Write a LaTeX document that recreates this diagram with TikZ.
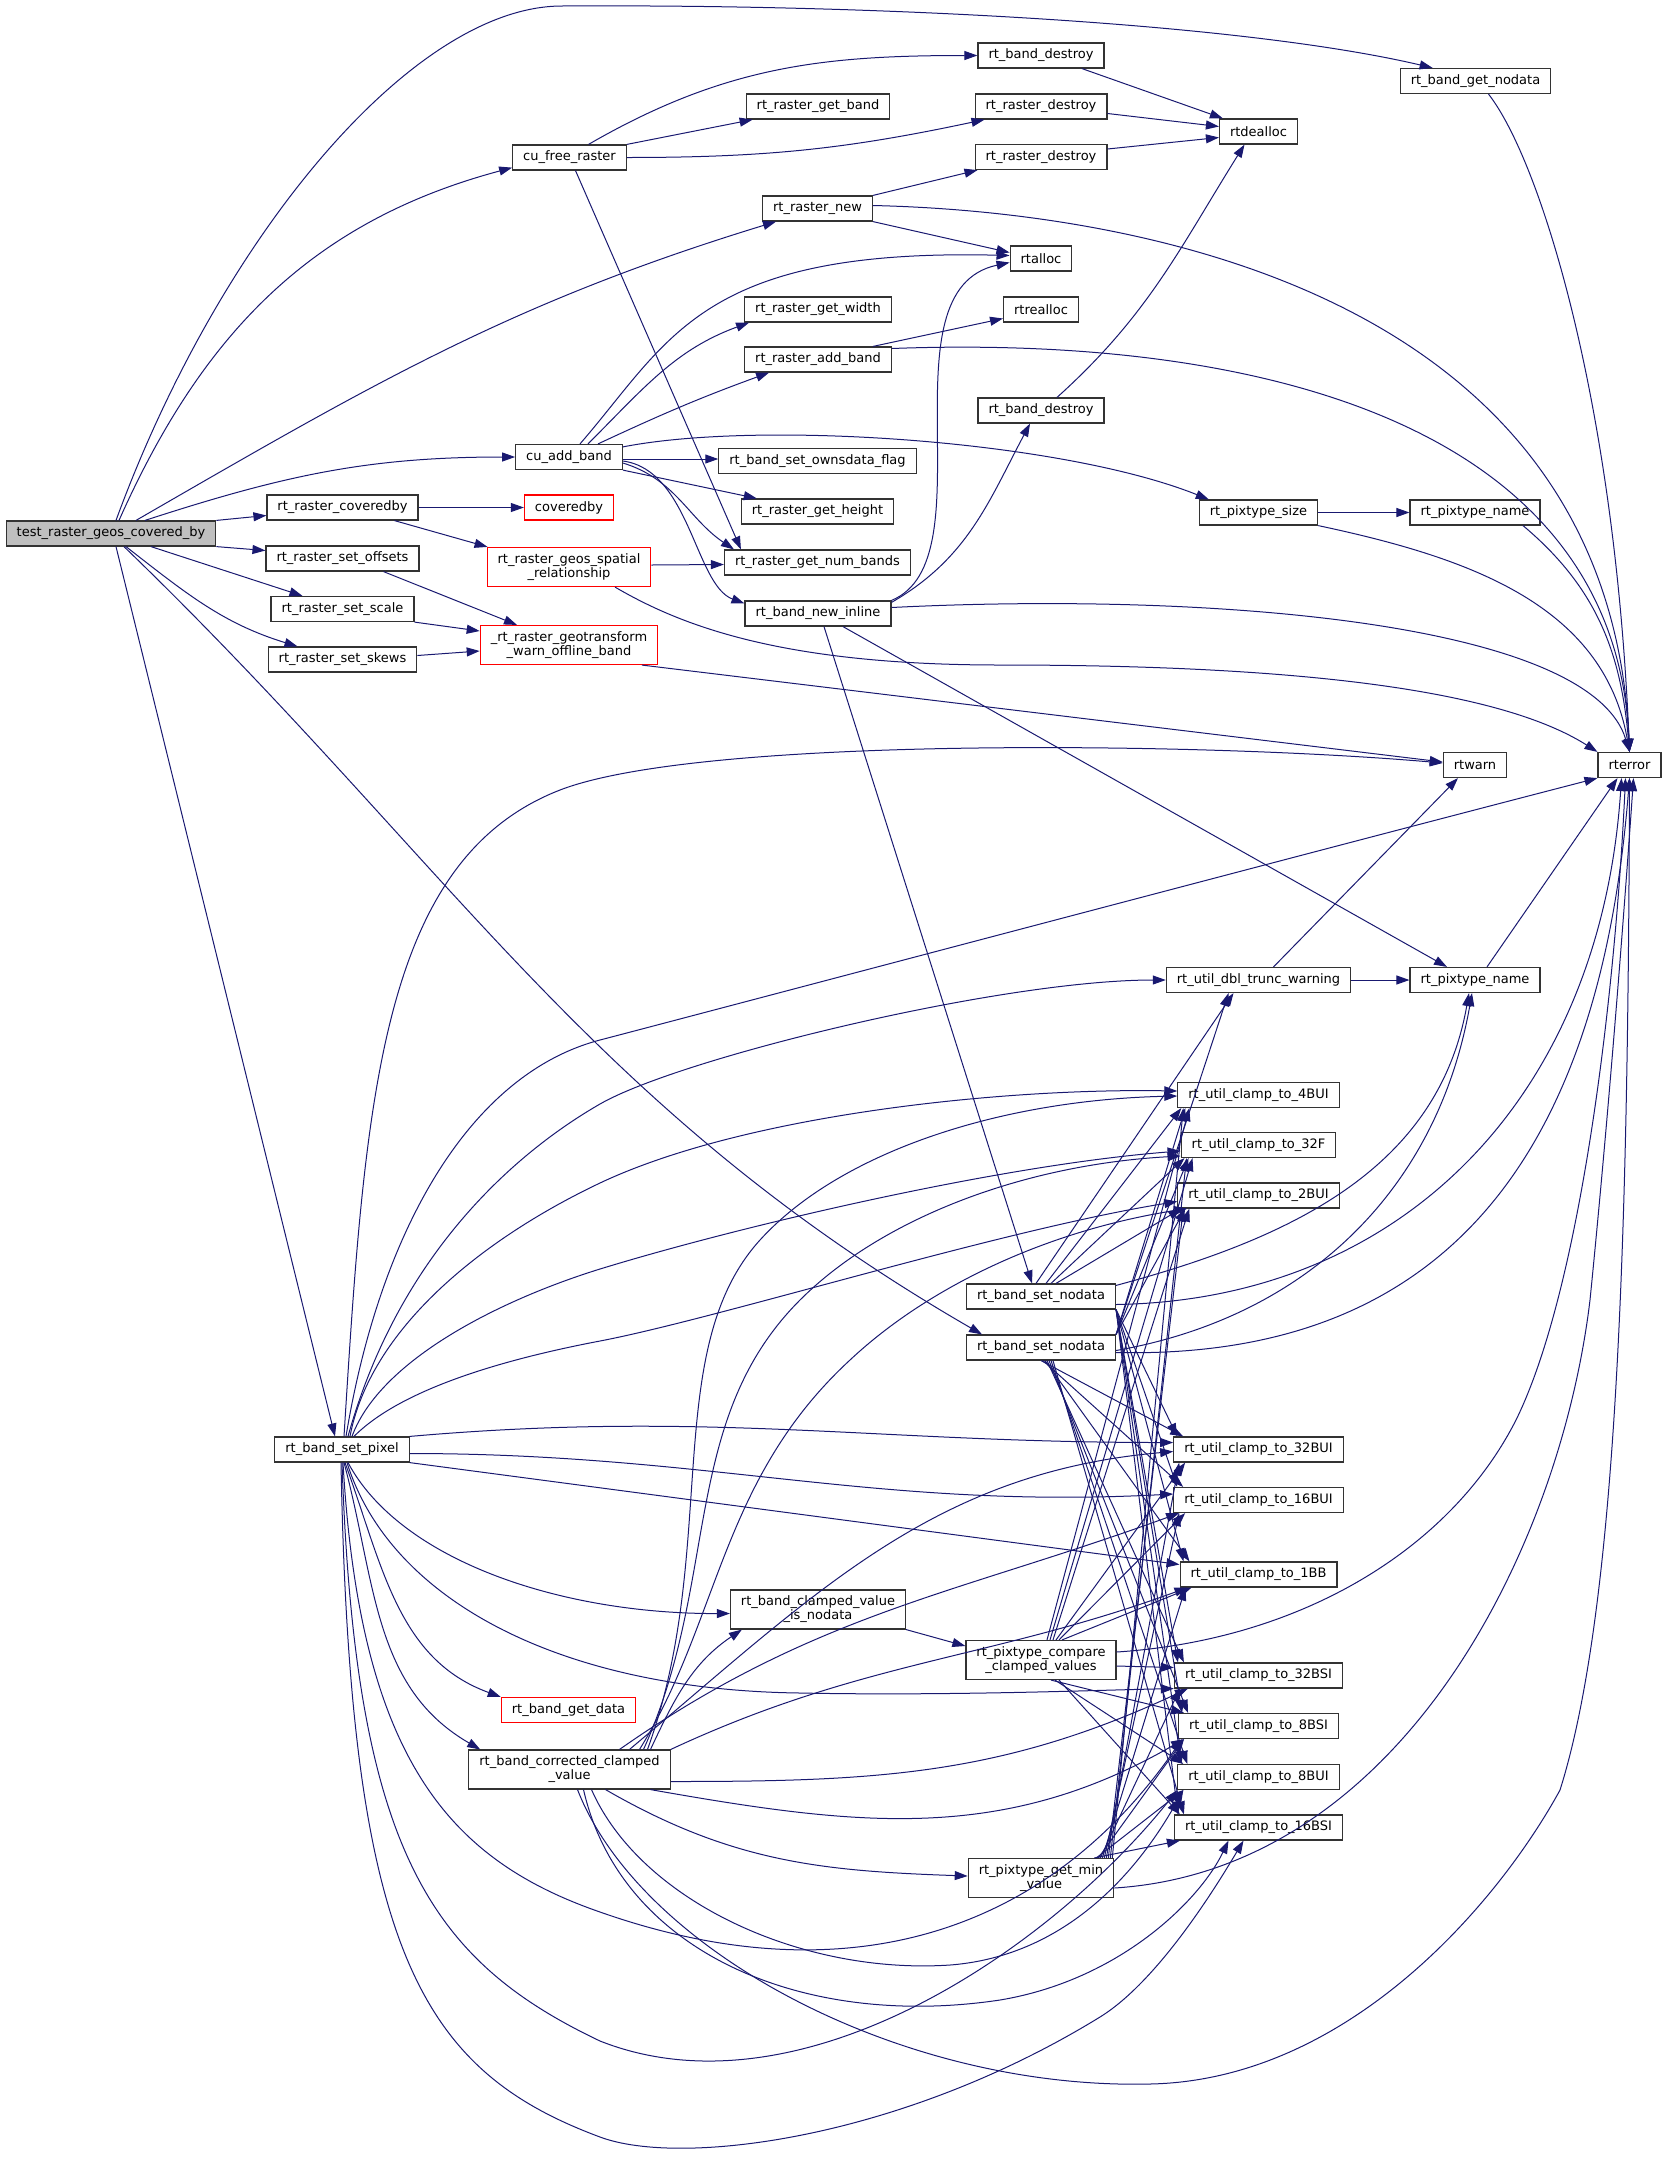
\documentclass[tikz,border=0pt]{standalone}
\usepackage{fontspec}
\setmainfont{DejaVu Sans}
\usetikzlibrary{arrows.meta}
\definecolor{edgeBlue}{HTML}{191970}
\begin{document}
\begin{tikzpicture}
            [x=1pt, y=1pt,
             fnBox/.style={rectangle,
                        draw=black!80,
                        line width=1.2pt,
                        fill=white,
                        align=center,
                        inner xsep=10.5pt,
                        inner ysep=6pt,
                        minimum height=25pt,
                        font=\fontsize{13}{14}\selectfont},
             rootBox/.style={fnBox, fill=black!25},
             truncBox/.style={fnBox, draw=red},
             callEdge/.style={draw=edgeBlue, line width=1pt, -{Triangle[length=13pt,width=9pt]}}]

            \useasboundingbox (0,0) rectangle (1667,-2169);

            \node[rootBox] (testCoveredBy) at (111,-533.5) {test\_raster\_geos\_covered\_by};
            \node[fnBox] (rasterCoveredby) at (342.5,-507.5) {rt\_raster\_coveredby};
            \node[fnBox] (setOffsets) at (342.5,-558.5) {rt\_raster\_set\_offsets};
            \node[fnBox] (setScale) at (342.5,-609) {rt\_raster\_set\_scale};
            \node[fnBox] (setSkews) at (342.5,-659.5) {rt\_raster\_set\_skews};
            \node[fnBox] (bandSetPixel) at (342,-1449.5) {rt\_band\_set\_pixel};

            \node[fnBox] (cuFreeRaster) at (569.5,-157.5) {cu\_free\_raster};
            \node[fnBox] (cuAddBand) at (569,-457) {cu\_add\_band};
            \node[truncBox] (coveredby) at (569,-507.5) {coveredby};
            \node[truncBox] (geosSpatialRel) at (569,-567) {rt\_raster\_geos\_spatial\\\_relationship};
            \node[truncBox] (geotransformWarn) at (569,-645) {\_rt\_raster\_geotransform\\\_warn\_offline\_band};
            \node[truncBox] (bandGetData) at (568.5,-1710) {rt\_band\_get\_data};
            \node[fnBox] (correctedClamped) at (569.5,-1769.5) {rt\_band\_corrected\_clamped\\\_value};

            \node[fnBox] (rasterGetBand) at (818,-106.5) {rt\_raster\_get\_band};
            \node[fnBox] (rasterNew) at (817.5,-208.5) {rt\_raster\_new};
            \node[fnBox] (rasterGetWidth) at (818,-309.5) {rt\_raster\_get\_width};
            \node[fnBox] (rasterAddBand) at (818,-359.5) {rt\_raster\_add\_band};
            \node[fnBox] (setOwnsdataFlag) at (817.5,-461) {rt\_band\_set\_ownsdata\_flag};
            \node[fnBox] (rasterGetHeight) at (817.5,-511.5) {rt\_raster\_get\_height};
            \node[fnBox] (rasterGetNumBands) at (817.5,-562.5) {rt\_raster\_get\_num\_bands};
            \node[fnBox] (bandNewInline) at (818,-613.5) {rt\_band\_new\_inline};
            \node[fnBox] (clampedIsNodata) at (818,-1609.5) {rt\_band\_clamped\_value\\\_is\_nodata};

            \node[fnBox] (bandDestroyA) at (1041,-55.5) {rt\_band\_destroy};
            \node[fnBox] (rasterDestroyA) at (1041,-106.5) {rt\_raster\_destroy};
            \node[fnBox] (rasterDestroyB) at (1041,-157) {rt\_raster\_destroy};
            \node[fnBox] (rtalloc) at (1041,-258.5) {rtalloc};
            \node[fnBox] (rtrealloc) at (1041,-309.5) {rtrealloc};
            \node[fnBox] (bandDestroyB) at (1041,-410.5) {rt\_band\_destroy};
            \node[fnBox] (setNodataA) at (1041,-1296.5) {rt\_band\_set\_nodata};
            \node[fnBox] (setNodataB) at (1041,-1347.5) {rt\_band\_set\_nodata};
            \node[fnBox] (compareClamped) at (1041,-1660) {rt\_pixtype\_compare\\\_clamped\_values};
            \node[fnBox] (getMinValue) at (1041,-1878) {rt\_pixtype\_get\_min\\\_value};

            \node[fnBox] (rtdealloc) at (1258.5,-131.5) {rtdealloc};
            \node[fnBox] (pixtypeSize) at (1258.5,-512.5) {rt\_pixtype\_size};
            \node[fnBox] (dblTruncWarning) at (1258.5,-980) {rt\_util\_dbl\_trunc\_warning};
            \foreach \nm/\yy/\lab in {clamp4BUI/-1095/4BUI, clamp32F/-1145/32F, clamp2BUI/-1195.5/2BUI,
                                      clamp32BUI/-1449.5/32BUI, clamp16BUI/-1500/16BUI, clamp1BB/-1574.5/1BB,
                                      clamp32BSI/-1675.5/32BSI, clamp8BSI/-1726/8BSI, clamp8BUI/-1777/8BUI,
                                      clamp16BSI/-1827.5/16BSI}
                \node[fnBox] (\nm) at (1258.5,\yy) {rt\_util\_clamp\_to\_\lab};

            \node[fnBox] (bandGetNodata) at (1475.5,-81) {rt\_band\_get\_nodata};
            \node[fnBox] (pixtypeNameA) at (1475,-512.5) {rt\_pixtype\_name};
            \node[fnBox] (rtwarn) at (1475,-765) {rtwarn};
            \node[fnBox] (pixtypeNameB) at (1475,-980) {rt\_pixtype\_name};
            \node[fnBox] (rterror) at (1629.5,-765) {rterror};

            \draw [callEdge] ([xshift=5pt]testCoveredBy.north) .. controls (219,-239) and (412,-6) .. (562,-6) .. controls (900,-4) and (1250,-25) .. (bandGetNodata.163);
            \draw [callEdge] ([xshift=8pt]testCoveredBy.north) to [out=66, in=195] (cuFreeRaster.190);
            \draw [callEdge] ([xshift=25pt]testCoveredBy.north) to [out=30, in=197] ([xshift=14pt]rasterNew.south west);
            \draw [callEdge] ([xshift=34pt]testCoveredBy.north) to [out=18, in=180] (cuAddBand.west);
            \draw [callEdge] (testCoveredBy.north east) -- ([yshift=-8pt]rasterCoveredby.west);
            \draw [callEdge] (testCoveredBy.south east) -- ([yshift=8pt]setOffsets.west);
            \draw [callEdge] ([xshift=40pt]testCoveredBy.south) -- ([xshift=-40pt]setScale.north);
            \draw [callEdge] ([xshift=15pt]testCoveredBy.south) to [out=-38, in=163] ([xshift=-45pt]setSkews.north);
            \draw [callEdge] ([xshift=13pt]testCoveredBy.south) to [out=-44, in=150] ([xshift=-59pt]setNodataB.north);
            \draw [callEdge] ([xshift=5pt]testCoveredBy.south) -- ([xshift=-7pt]bandSetPixel.north);

            \draw [callEdge] ([xshift=19pt]cuFreeRaster.north) to [out=30, in=180] (bandDestroyA.west);
            \draw [callEdge] (cuFreeRaster.north east) -- ([xshift=7pt]rasterGetBand.south west);
            \draw [callEdge] (cuFreeRaster.east) to [out=0, in=192] ([xshift=10pt]rasterDestroyA.south west);
            \draw [callEdge] ([xshift=6pt]cuFreeRaster.south) -- ([xshift=17pt]rasterGetNumBands.north west);

            \draw [callEdge] ([xshift=41pt]bandDestroyA.south) -- ([xshift=4pt]rtdealloc.north west);
            \draw [callEdge] ([yshift=-7pt]rasterDestroyA.east) -- ([yshift=5pt]rtdealloc.west);
            \draw [callEdge] ([yshift=8pt]rasterDestroyB.east) -- ([yshift=-6pt]rtdealloc.west);
            \draw [callEdge] ([xshift=16pt]bandDestroyB.north) to [out=42, in=-122] ([xshift=-14pt]rtdealloc.south);

            \draw [callEdge] (rasterNew.north east) -- ([xshift=3pt]rasterDestroyB.south west);
            \draw [callEdge] ([yshift=3pt]rasterNew.east) .. controls (1150,-212) and (1610,-300) .. (rterror.north);
            \draw [callEdge] (rasterNew.south east) -- ([yshift=6pt]rtalloc.west);

            \draw [callEdge] ([xshift=11pt]cuAddBand.north) .. controls (670,-340) and (700,-248) .. ([yshift=3pt]rtalloc.west);
            \draw [callEdge] ([xshift=19pt]cuAddBand.north) to [out=45, in=200] ([xshift=5pt]rasterGetWidth.south west);
            \draw [callEdge] ([xshift=29pt]cuAddBand.north) to [out=25, in=200] ([xshift=25pt]rasterAddBand.south west);
            \draw [callEdge] ([yshift=-3pt]cuAddBand.north east) .. controls (760,-420) and (1060,-440) .. ([xshift=10pt]pixtypeSize.north west);
            \draw [callEdge] ([yshift=-2pt]cuAddBand.east) -- ([yshift=2pt]setOwnsdataFlag.west);
            \draw [callEdge] (cuAddBand.south east) -- ([xshift=16pt]rasterGetHeight.north west);
            \draw [callEdge] ([yshift=-6pt]cuAddBand.east) to [out=-17, in=146] ([xshift=10pt]rasterGetNumBands.north west);
            \draw [callEdge] ([yshift=-4pt]cuAddBand.east) .. controls (690,-470) and (695,-585) .. ([yshift=10pt]bandNewInline.west);

            \draw [callEdge] ([xshift=55pt]rasterAddBand.north) -- ([yshift=-9pt]rtrealloc.west);
            \draw [callEdge] ([yshift=11pt]rasterAddBand.east) .. controls (1250,-335) and (1615,-420) .. (rterror.north);

            \draw [callEdge] (rasterCoveredby.east) -- (coveredby.west);
            \draw [callEdge] ([xshift=52pt]rasterCoveredby.south) -- ([xshift=1pt]geosSpatialRel.north west);
            \draw [callEdge] ([xshift=41pt]setOffsets.south) -- ([xshift=-52pt]geotransformWarn.north);
            \draw [callEdge] (setScale.south east) -- ([yshift=14pt]geotransformWarn.west);
            \draw [callEdge] ([yshift=4pt]setSkews.east) -- ([yshift=-6pt]geotransformWarn.west);

            \draw [callEdge] ([yshift=2pt]geosSpatialRel.east) -- ([yshift=-2pt]rasterGetNumBands.west);
            \draw [callEdge] ([xshift=46pt]geosSpatialRel.south) .. controls (680,-625) and (780,-665) .. (1000,-665) .. controls (1300,-665) and (1500,-690) .. (rterror.north west);
            \draw [callEdge] ([xshift=73pt]geotransformWarn.south) -- ([yshift=3pt]rtwarn.west);

            \draw [callEdge] (bandNewInline.north east) .. controls (990,-560) and (880,-290) .. ([yshift=-4pt]rtalloc.west);
            \draw [callEdge] ([yshift=-2pt]bandNewInline.north east) to [out=30, in=-118] ([xshift=-11pt]bandDestroyB.south);
            \draw [callEdge] ([yshift=6pt]bandNewInline.east) .. controls (1200,-592) and (1590,-620) .. (rterror.north);
            \draw [callEdge] ([xshift=6pt]bandNewInline.south) -- ([xshift=-9pt]setNodataA.north);
            \draw [callEdge] ([xshift=25pt]bandNewInline.south) -- ([xshift=-28pt]pixtypeNameB.north);

            \draw [callEdge] (pixtypeSize.east) -- (pixtypeNameA.west);
            \draw [callEdge] (pixtypeSize.south east) to [out=-12, in=100] (rterror.north);
            \draw [callEdge] ([xshift=48pt]pixtypeNameA.south) to [out=-40, in=95] (rterror.north);
            \draw [callEdge] ([xshift=13pt]bandGetNodata.south) .. controls (1540,-160) and (1615,-400) .. (rterror.north);
            \draw [callEdge] ([xshift=15pt]dblTruncWarning.north) -- ([xshift=-17pt]rtwarn.south);
            \draw [callEdge] (dblTruncWarning.east) -- (pixtypeNameB.west);
            \draw [callEdge] ([xshift=12pt]pixtypeNameB.north) -- ([xshift=-12pt]rterror.south);

            \draw [callEdge] ([xshift=2pt]bandSetPixel.north) .. controls (365,-1100) and (380,-860) .. (560,-790) .. controls (700,-736) and (1200,-742) .. ([yshift=2pt]rtwarn.west);
            \draw [callEdge] ([xshift=4pt]bandSetPixel.north) .. controls (380,-1230) and (470,-1074) .. (600,-1040) .. controls (730,-1006) and (1300,-855) .. (rterror.south west);
            \draw [callEdge] ([xshift=6pt]bandSetPixel.north) .. controls (400,-1250) and (520,-1150) .. (600,-1104) .. controls (680,-1058) and (1000,-980) .. (dblTruncWarning.west);
            \draw [callEdge] ([xshift=8pt]bandSetPixel.north) .. controls (370,-1330) and (480,-1240) .. (600,-1183) .. controls (744,-1115) and (1000,-1088) .. ([yshift=4pt]clamp4BUI.west);
            \draw [callEdge] ([xshift=10pt]bandSetPixel.north) .. controls (380,-1360) and (500,-1300) .. (600,-1269) .. controls (740,-1226) and (1000,-1165) .. ([yshift=-6pt]clamp32F.west);
            \draw [callEdge] ([xshift=12pt]bandSetPixel.north) .. controls (400,-1390) and (500,-1360) .. (600,-1341) .. controls (720,-1318) and (1000,-1230) .. ([yshift=-6pt]clamp2BUI.west);
            \draw [callEdge] (bandSetPixel.north east) to [out=5, in=180] ([yshift=7pt]clamp32BUI.west);
            \draw [callEdge] ([yshift=-4pt]bandSetPixel.east) to [out=0, in=183] ([yshift=6pt]clamp16BUI.west);
            \draw [callEdge] (bandSetPixel.south east) -- ([yshift=10pt]clamp1BB.west);
            \draw [callEdge] ([xshift=6pt]bandSetPixel.south) .. controls (400,-1560) and (560,-1614) .. ([yshift=-4pt]clampedIsNodata.west);
            \draw [callEdge] ([xshift=5pt]bandSetPixel.south) .. controls (390,-1600) and (560,-1690) .. (800,-1693) .. controls (950,-1696) and (1100,-1690) .. (clamp32BSI.south west);
            \draw [callEdge] ([xshift=3pt]bandSetPixel.south) to [out=-70, in=160] (bandGetData.north west);
            \draw [callEdge] ([xshift=2pt]bandSetPixel.south) to [out=-75, in=150] ([xshift=12pt]correctedClamped.north west);
            \draw [callEdge] ([xshift=1pt]bandSetPixel.south) .. controls (360,-1760) and (450,-1860) .. (600,-1912) .. controls (850,-2000) and (1050,-1930) .. ([xshift=4pt]clamp8BSI.south west);
            \draw [callEdge] (bandSetPixel.south) .. controls (355,-1850) and (430,-1960) .. (600,-2041) .. controls (800,-2120) and (1050,-1950) .. (clamp8BUI.south west);
            \draw [callEdge] ([xshift=-1pt]bandSetPixel.south) .. controls (350,-1950) and (420,-2070) .. (600,-2137) .. controls (680,-2167) and (900,-2140) .. (1100,-2017) .. controls (1160,-1980) and (1220,-1880) .. ([xshift=-15pt]clamp16BSI.south);

            \draw [callEdge] ([xshift=81pt]correctedClamped.north) to [out=65, in=214] ([xshift=12pt]clampedIsNodata.south west);
            \draw [callEdge] ([xshift=78pt]correctedClamped.north) .. controls (720,-1550) and (660,-1350) .. (760,-1240) .. controls (840,-1152) and (1000,-1100) .. ([yshift=-1pt]clamp4BUI.west);
            \draw [callEdge] ([xshift=74pt]correctedClamped.north) .. controls (720,-1580) and (680,-1420) .. (800,-1300) .. controls (880,-1220) and (1020,-1165) .. ([yshift=-11pt]clamp32F.west);
            \draw [callEdge] ([xshift=70pt]correctedClamped.north) .. controls (720,-1620) and (720,-1480) .. (850,-1360) .. controls (930,-1285) and (1050,-1230) .. ([xshift=10pt]clamp2BUI.south west);
            \draw [callEdge] ([xshift=60pt]correctedClamped.north) to [out=40, in=185] ([yshift=-2pt]clamp32BUI.west);
            \draw [callEdge] ([xshift=50pt]correctedClamped.north) to [out=35, in=200] ([xshift=6pt]clamp16BUI.south west);
            \draw [callEdge] (correctedClamped.north east) to [out=25, in=200] ([xshift=8pt]clamp1BB.south west);
            \draw [callEdge] ([yshift=-12pt]correctedClamped.east) to [out=0, in=205] ([xshift=14pt]clamp32BSI.south west);
            \draw [callEdge] ([xshift=81pt]correctedClamped.south) to [out=-10, in=210] ([xshift=6pt]clamp8BSI.south west);
            \draw [callEdge] ([xshift=22pt]correctedClamped.south) .. controls (640,-1900) and (800,-1975) .. (950,-1965) .. controls (1080,-1955) and (1150,-1850) .. ([xshift=6pt]clamp8BUI.south west);
            \draw [callEdge] ([xshift=14pt]correctedClamped.south) .. controls (620,-1950) and (800,-2030) .. (1000,-2000) .. controls (1120,-1980) and (1200,-1900) .. ([xshift=-30pt]clamp16BSI.south);
            \draw [callEdge] ([xshift=36pt]correctedClamped.south) to [out=-30, in=178] ([yshift=2pt]getMinValue.west);
            \draw [callEdge] ([xshift=8pt]correctedClamped.south) .. controls (640,-1950) and (900,-2090) .. (1150,-2084) .. controls (1350,-2080) and (1500,-1900) .. (1560,-1790) .. controls (1620,-1600) and (1628,-1200) .. (rterror.south);

            \draw [callEdge] (clampedIsNodata.south east) -- ([yshift=14pt]compareClamped.west);

            \draw [callEdge] ([xshift=-5pt]setNodataA.north) -- ([xshift=-25pt]dblTruncWarning.south);
            \draw [callEdge] ([yshift=-2pt]setNodataA.north east) to [out=15, in=-100] ([xshift=-6pt]pixtypeNameB.south);
            \draw [callEdge] ([yshift=-8pt]setNodataA.east) .. controls (1400,-1300) and (1600,-1100) .. ([xshift=-8pt]rterror.south);
            \foreach \tg/\sh in {clamp4BUI/5, clamp32F/10, clamp2BUI/15}
                \draw [callEdge] ([xshift=\sh pt]setNodataA.north) -- ([xshift=4pt]\tg.south west);
            \foreach \tg in {clamp32BUI, clamp16BUI, clamp1BB, clamp32BSI, clamp8BSI, clamp8BUI, clamp16BSI}
                \draw [callEdge] (setNodataA.south east) -- ([xshift=4pt]\tg.north west);

            \draw [callEdge] (setNodataB.north east) -- ([xshift=-30pt]dblTruncWarning.south);
            \draw [callEdge] ([yshift=-3pt]setNodataB.east) to [out=10, in=-100] ([xshift=-3pt]pixtypeNameB.south);
            \draw [callEdge] ([yshift=-5pt]setNodataB.east) .. controls (1450,-1360) and (1600,-1150) .. (rterror.south);
            \foreach \tg in {clamp4BUI, clamp32F, clamp2BUI}
                \draw [callEdge] (setNodataB.north east) -- ([xshift=8pt]\tg.south west);
            \foreach \tg/\sh in {clamp32BUI/0, clamp16BUI/2, clamp1BB/4, clamp32BSI/6, clamp8BSI/8, clamp8BUI/10, clamp16BSI/12}
                \draw [callEdge] ([xshift=\sh pt]setNodataB.south) -- ([xshift=10pt]\tg.north west);

            \draw [callEdge] ([yshift=8pt]compareClamped.east) .. controls (1300,-1640) and (1450,-1550) .. (1516,-1420) .. controls (1580,-1290) and (1615,-1000) .. ([xshift=-4pt]rterror.south);
            \foreach \tg/\sh in {clamp4BUI/6, clamp32F/9, clamp2BUI/12, clamp32BUI/15, clamp16BUI/18, clamp1BB/21}
                \draw [callEdge] ([xshift=\sh pt]compareClamped.north) -- ([xshift=12pt]\tg.south west);
            \draw [callEdge] ([yshift=-6pt]compareClamped.east) -- ([yshift=8pt]clamp32BSI.west);
            \foreach \tg/\sh in {clamp8BSI/10, clamp8BUI/14, clamp16BSI/18}
                \draw [callEdge] ([xshift=\sh pt]compareClamped.south) -- ([xshift=6pt]\tg.north west);

            \draw [callEdge] ([yshift=-10pt]getMinValue.east) .. controls (1400,-1870) and (1560,-1550) .. (1590,-1300) .. controls (1610,-1100) and (1625,-900) .. ([xshift=4pt]rterror.south);
            \foreach \tg/\sh in {clamp4BUI/2, clamp32F/4, clamp2BUI/6, clamp32BUI/8, clamp16BUI/10, clamp1BB/12, clamp32BSI/14, clamp8BSI/16, clamp8BUI/18, clamp16BSI/20}
                \draw [callEdge] ([xshift=-\sh pt]getMinValue.north east) -- ([xshift=6pt]\tg.south west);

        \end{tikzpicture}
\end{document}
